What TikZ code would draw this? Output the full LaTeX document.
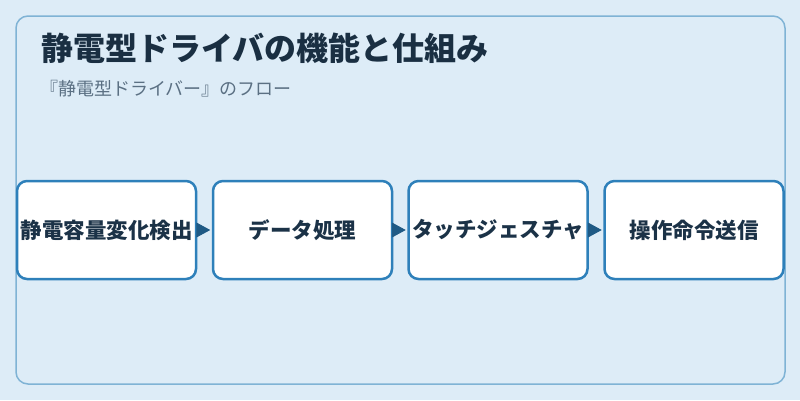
\documentclass[tikz,border=0pt]{standalone}
\usepackage{fontspec}
\setmainfont{Noto Sans CJK JP}
\usetikzlibrary{arrows.meta}
\definecolor{bg}{HTML}{DDECF7}
\definecolor{frame}{HTML}{7FB3D5}
\definecolor{boxline}{HTML}{2E80BA}
\definecolor{arrowc}{HTML}{1F5A85}
\definecolor{titlec}{HTML}{1A2F42}
\definecolor{subc}{HTML}{5B7083}
\definecolor{textc}{HTML}{1B3247}
\tikzset{
  stepbox/.style={draw=boxline, line width=2.5pt, fill=white, rounded corners=10pt,
    minimum width=179pt, minimum height=98pt, inner sep=0pt, text=textc,
    font=\fontsize{21.5pt}{24pt}\selectfont\bfseries},
  flow/.style={draw=arrowc, line width=1pt, shorten >=1.5pt,
    -{Triangle[length=14pt,width=15pt,fill=arrowc]}}
}
\begin{document}
\begin{tikzpicture}[x=1pt,y=-1pt]
\fill[bg] (0,0) rectangle (800,400);
\useasboundingbox (0,0) rectangle (800,400);
\draw[frame, line width=1.5pt, rounded corners=12pt] (16,16) rectangle (785,384);
\node[anchor=base west, inner sep=0pt, text=titlec, font=\fontsize{32pt}{35pt}\selectfont\bfseries] (title) at (41,60) {静電型ドライバの機能と仕組み};
\node[anchor=base west, inner sep=0pt, text=subc, font=\fontsize{18pt}{20pt}\selectfont] (sub) at (40,95) {『静電型ドライバー』のフロー};
\node[stepbox] (b1) at (106.5,230) {静電容量変化検出};
\node[stepbox] (b2) at (302.5,230) {データ処理};
\node[stepbox] (b3) at (498,230) {タッチジェスチャ};
\node[stepbox] (b4) at (694,230) {操作命令送信};
\draw[flow] (b1.east) -- (b2.west);
\draw[flow] (b2.east) -- (b3.west);
\draw[flow] (b3.east) -- (b4.west);
\end{tikzpicture}
\end{document}
